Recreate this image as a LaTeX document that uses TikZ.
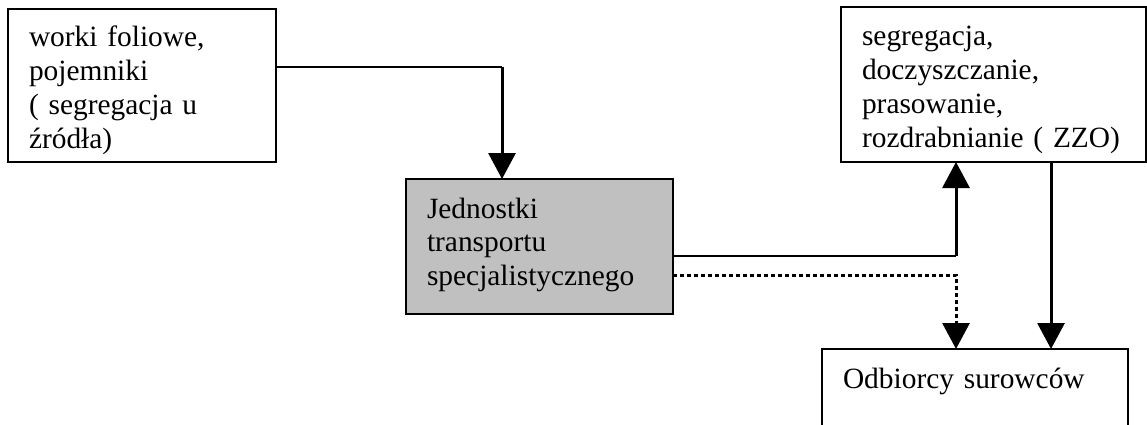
\documentclass[tikz,border=0pt]{standalone}
\usepackage{fontspec}
\setmainfont{Liberation Serif}
\usetikzlibrary{arrows.meta}
\definecolor{boxgray}{RGB}{192,192,192}
\begin{document}
\begin{tikzpicture}[
  x=1pt, y=-1pt,
  box/.style={draw, line width=2pt, anchor=north west, outer sep=0pt, inner xsep=21pt, inner ysep=0pt,
    align=left, text height=39pt, font=\fontsize{29.4}{33.7}\selectfont},
  feed/.style={line width=2pt},
  arr/.style={line width=3pt, -{Triangle[width=27pt,length=26pt]}},
  dots/.style={line width=3pt, dash pattern=on 4pt off 3pt, -{Triangle[width=27pt,length=26pt]}}
]
\clip (0,0) rectangle (1147,425);
\node[box, text width=226pt, text height=38pt, text depth=115pt] (worki) at (8,9) {worki foliowe,\\pojemniki\\( segregacja u\\źródła)};
\node[box, fill=boxgray, text width=225pt, text depth=96pt] (jednostki) at (406,179) {Jednostki\\transportu\\specjalistycznego};
\node[box, text width=263pt, text depth=116pt] (zzo) at (841,7) {segregacja,\\doczyszczanie,\\prasowanie,\\rozdrabnianie ( ZZO)};
\node[box, text width=264pt, text depth=80pt] (odbiorcy) at (822,349) {Odbiorcy surowców};
\coordinate (k1) at (502,67);
\draw[feed] (worki.east |- k1) -- (k1);
\draw[arr] (k1) -- (jednostki.north -| k1);
\coordinate (k2) at (956,256);
\draw[line width=1.5pt] (jednostki.east |- k2) -- (k2);
\draw[arr] (k2) -- (zzo.south -| k2);
\coordinate (k3) at (956,275);
\draw[dots] (jednostki.east |- k3) -| (odbiorcy.north -| k3);
\coordinate (k4) at (1051,162);
\draw[arr] (zzo.south -| k4) -- (odbiorcy.north -| k4);
\end{tikzpicture}
\end{document}
